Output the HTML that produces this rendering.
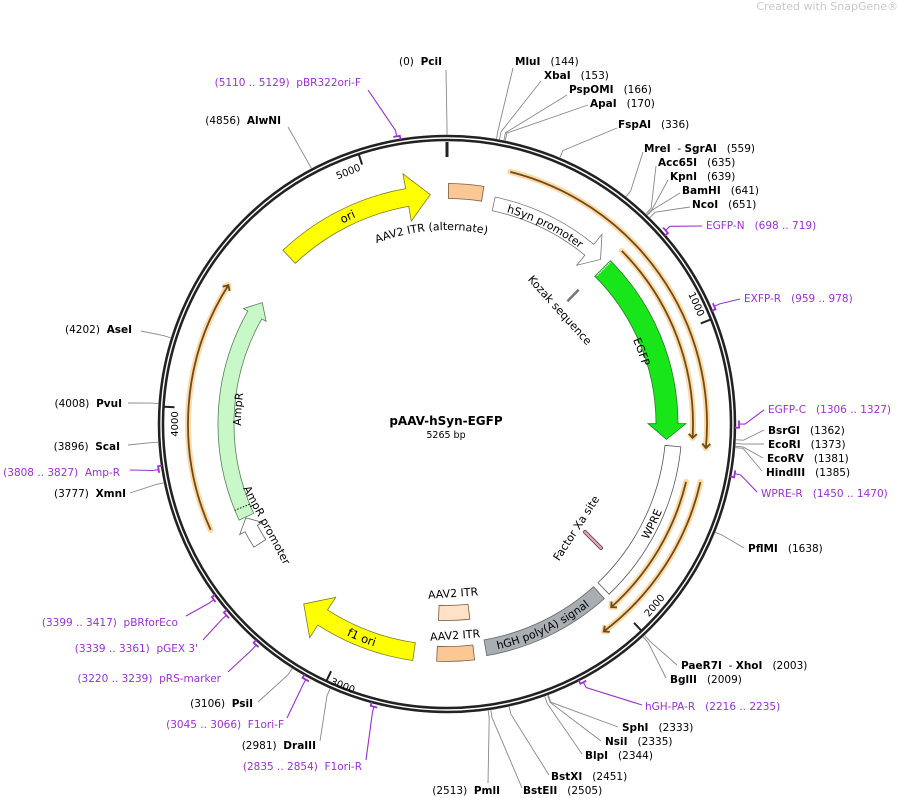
<!DOCTYPE html>
<html><head><meta charset="utf-8">
<style>
html,body{margin:0;padding:0;background:#fff;}
svg{display:block;font-family:"DejaVu Sans","Liberation Sans",sans-serif;}
svg text{white-space:pre;}
.n{font-weight:bold;fill:#000;}
.p{fill:#000;}
.pr{fill:#9b30d0;}
</style></head>
<body>
<svg id="s" width="898" height="798" viewBox="0 0 898 798" xmlns="http://www.w3.org/2000/svg" xml:space="preserve">
<g id="shapes"></g>
<defs>
<path id="pOri"/><path id="pItrA"/><path id="pHsyn"/><path id="pEgfp"/><path id="pWpre"/><path id="pHgh"/><path id="pF1"/><path id="pAmp"/>
</defs>
<g font-size="11.5" fill="#000">
<text><textPath href="#pOri" startOffset="50%" text-anchor="middle">ori</textPath></text>
<text font-size="11"><textPath href="#pItrA" startOffset="50%" text-anchor="middle">AAV2 ITR (alternate)</textPath></text>
<text font-size="11"><textPath href="#pHsyn" startOffset="50%" text-anchor="middle">hSyn promoter</textPath></text>
<text font-size="11"><textPath href="#pEgfp" startOffset="50%" text-anchor="middle">EGFP</textPath></text>
<text font-size="11"><textPath href="#pWpre" startOffset="50%" text-anchor="middle">WPRE</textPath></text>
<text font-size="11"><textPath href="#pHgh" startOffset="50%" text-anchor="middle">hGH poly(A) signal</textPath></text>
<text font-size="11.5"><textPath href="#pF1" startOffset="50%" text-anchor="middle">f1 ori</textPath></text>
<text font-size="11"><textPath href="#pAmp" startOffset="50%" text-anchor="middle">AmpR</textPath></text>
<text font-size="11" x="560" y="314" text-anchor="middle" transform="rotate(48 560 310)">Kozak sequence</text>
<text font-size="11" x="576" y="532" text-anchor="middle" transform="rotate(-57 576 528)">Factor Xa site</text>
<text font-size="11" x="267" y="529" text-anchor="middle" transform="rotate(62 267 525)">AmpR promoter</text>
<text font-size="11" x="453" y="597" text-anchor="middle" transform="rotate(-4 453 593)">AAV2 ITR</text>
<text font-size="11" x="455" y="639" text-anchor="middle" transform="rotate(-4 455 635)">AAV2 ITR</text>
</g>
<text x="446" y="425" text-anchor="middle" font-size="12" font-weight="bold">pAAV-hSyn-EGFP</text>
<text x="446" y="438" text-anchor="middle" font-size="9.5">5265 bp</text>
<g font-size="10" fill="#000">
<text x="348" y="175" text-anchor="middle" transform="rotate(-22 348 171)">5000</text>
<text x="174" y="428" text-anchor="middle" transform="rotate(-90 174 424)">4000</text>
<text x="343" y="689" text-anchor="middle" transform="rotate(22 343 685)">3000</text>
<text x="654" y="609" text-anchor="middle" transform="rotate(-50 654 605)">2000</text>
<text x="697" y="308" text-anchor="middle" transform="rotate(66 697 304)">1000</text>
</g>
<text x="898" y="10" text-anchor="end" font-size="11" fill="#c8c8c8">Created with SnapGene®</text>
<g font-size="10.5">
<text x="442" y="65" text-anchor="end"><tspan class="p">(0)  </tspan><tspan class="n">PciI</tspan></text>
<text x="515" y="65"><tspan class="n">MluI</tspan><tspan>   (144)</tspan></text>
<text x="544" y="79"><tspan class="n">XbaI</tspan><tspan>   (153)</tspan></text>
<text x="569" y="93"><tspan class="n">PspOMI</tspan><tspan>   (166)</tspan></text>
<text x="590" y="107"><tspan class="n">ApaI</tspan><tspan>   (170)</tspan></text>
<text x="618" y="128"><tspan class="n">FspAI</tspan><tspan>   (336)</tspan></text>
<text x="644" y="152"><tspan class="n">MreI</tspan><tspan>  - </tspan><tspan class="n">SgrAI</tspan><tspan>   (559)</tspan></text>
<text x="658" y="166"><tspan class="n">Acc65I</tspan><tspan>   (635)</tspan></text>
<text x="670" y="180"><tspan class="n">KpnI</tspan><tspan>   (639)</tspan></text>
<text x="682" y="194"><tspan class="n">BamHI</tspan><tspan>   (641)</tspan></text>
<text x="692" y="208"><tspan class="n">NcoI</tspan><tspan>   (651)</tspan></text>
<text x="768" y="434"><tspan class="n">BsrGI</tspan><tspan>   (1362)</tspan></text>
<text x="768" y="448"><tspan class="n">EcoRI</tspan><tspan>   (1373)</tspan></text>
<text x="767" y="462"><tspan class="n">EcoRV</tspan><tspan>   (1381)</tspan></text>
<text x="766" y="476"><tspan class="n">HindIII</tspan><tspan>   (1385)</tspan></text>
<text x="748" y="552"><tspan class="n">PflMI</tspan><tspan>   (1638)</tspan></text>
<text x="681" y="669"><tspan class="n">PaeR7I</tspan><tspan>  - </tspan><tspan class="n">XhoI</tspan><tspan>   (2003)</tspan></text>
<text x="670" y="683"><tspan class="n">BglII</tspan><tspan>   (2009)</tspan></text>
<text x="622" y="731"><tspan class="n">SphI</tspan><tspan>   (2333)</tspan></text>
<text x="605" y="745"><tspan class="n">NsiI</tspan><tspan>   (2335)</tspan></text>
<text x="585" y="759"><tspan class="n">BlpI</tspan><tspan>   (2344)</tspan></text>
<text x="551" y="780"><tspan class="n">BstXI</tspan><tspan>   (2451)</tspan></text>
<text x="523" y="794"><tspan class="n">BstEII</tspan><tspan>   (2505)</tspan></text>
<text x="500" y="794" text-anchor="end"><tspan>(2513)  </tspan><tspan class="n">PmlI</tspan></text>
<text x="316" y="749" text-anchor="end"><tspan>(2981)  </tspan><tspan class="n">DraIII</tspan></text>
<text x="253" y="707" text-anchor="end"><tspan>(3106)  </tspan><tspan class="n">PsiI</tspan></text>
<text x="126" y="497" text-anchor="end"><tspan>(3777)  </tspan><tspan class="n">XmnI</tspan></text>
<text x="120" y="450" text-anchor="end"><tspan>(3896)  </tspan><tspan class="n">ScaI</tspan></text>
<text x="122" y="407" text-anchor="end"><tspan>(4008)  </tspan><tspan class="n">PvuI</tspan></text>
<text x="132" y="333" text-anchor="end"><tspan>(4202)  </tspan><tspan class="n">AseI</tspan></text>
<text x="281" y="124" text-anchor="end"><tspan>(4856)  </tspan><tspan class="n">AlwNI</tspan></text>
</g>
<g font-size="10.5" class="pr">
<text x="361" y="86" text-anchor="end">(5110 .. 5129)  pBR322ori-F</text>
<text x="706" y="229">EGFP-N   (698 .. 719)</text>
<text x="744" y="302">EXFP-R   (959 .. 978)</text>
<text x="768" y="413">EGFP-C   (1306 .. 1327)</text>
<text x="761" y="497">WPRE-R   (1450 .. 1470)</text>
<text x="645" y="710">hGH-PA-R   (2216 .. 2235)</text>
<text x="362" y="770" text-anchor="end">(2835 .. 2854)  F1ori-R</text>
<text x="284" y="728" text-anchor="end">(3045 .. 3066)  F1ori-F</text>
<text x="221" y="682" text-anchor="end">(3220 .. 3239)  pRS-marker</text>
<text x="198" y="652" text-anchor="end">(3339 .. 3361)  pGEX 3'</text>
<text x="178" y="626" text-anchor="end">(3399 .. 3417)  pBRforEco</text>
<text x="120" y="476" text-anchor="end">(3808 .. 3827)  Amp-R</text>
</g>
</svg>
<script>
(function(){
var NS="http://www.w3.org/2000/svg",cx=447,cy=424,N=5265;
function P(b,r){var a=b/N*2*Math.PI;return [cx+r*Math.sin(a),cy-r*Math.cos(a)];}
function f(p){return p[0].toFixed(2)+" "+p[1].toFixed(2);}
function arc(b1,b2,r,sw){var lg=Math.abs(b2-b1)/N>0.5?1:0;return "A"+r+" "+r+" 0 "+lg+" "+sw+" "+f(P(b2,r));}
var G=document.getElementById("shapes");
function el(t,a,par){var e=document.createElementNS(NS,t);for(var k in a)e.setAttribute(k,a[k]);(par||G).appendChild(e);return e;}
function track(b1,b2,r){return "M"+f(P(b1,r))+arc(b1,b2,r,1);}
function primer(b1,b2,r,cw){
 var d=track(b1,b2,r);
 el("path",{d:d,fill:"none",stroke:"#fcd9a6",'stroke-width':6,'stroke-linecap':'round'});
 var tip=cw?b2:b1, bk=cw?b2-14:b1+14;
 var t=P(tip,r),a=P(bk,r+4),c=P(bk,r-4);
 el("path",{d:"M"+f(a)+"L"+f(t)+"L"+f(c),fill:"none",stroke:"#fcd9a6",'stroke-width':5,'stroke-linejoin':'round'});
 el("path",{d:d,fill:"none",stroke:"#6e4b16",'stroke-width':1.8});
 el("path",{d:"M"+f(a)+"L"+f(t)+"L"+f(c),fill:"none",stroke:"#6e4b16",'stroke-width':1.8});
}
primer(206,1394,260,true);
primer(662,1364,246,true);
primer(1505,2090,260,true);
primer(1515,2020,246,true);
primer(3596,4423,259,true);
function farrow(s,e,r,w,hw,h,fill,stroke,cw){
 var ro=r+w/2,ri=r-w/2,d;
 if(cw){var m=e-h;
  d="M"+f(P(s,ro))+arc(s,m,ro,1)+"L"+f(P(m,r+hw))+"L"+f(P(e,r))+"L"+f(P(m,r-hw))+"L"+f(P(m,ri))+arc(m,s,ri,0)+"Z";
 } else {var m=s+h;
  d="M"+f(P(e,ro))+arc(e,m,ro,0)+"L"+f(P(m,r+hw))+"L"+f(P(s,r))+"L"+f(P(m,r-hw))+"L"+f(P(m,ri))+arc(m,e,ri,1)+"Z";
 }
 el("path",{d:d,fill:fill,stroke:stroke,'stroke-width':0.8});
}
function box(s,e,r,w,fill,stroke){
 var ro=r+w/2,ri=r-w/2;
 el("path",{d:"M"+f(P(s,ro))+arc(s,e,ro,1)+"L"+f(P(e,ri))+arc(e,s,ri,0)+"Z",fill:fill,stroke:stroke,'stroke-width':0.8});
}
farrow(4631,5204,230,18,24,85,"#ffff00","#7a7a20",true);
box(5,129,233,15,"#fbc895","#7a5a40");
farrow(175,629,225,14,20,55,"#ffffff","#777",true);
farrow(658,1375,220,22,19,60,"#19e619","#2a7a2a",true);
box(1398,1995,227,16,"#ffffff","#555");
box(2018,2490,227,16,"#a8aeb4","#666");
box(2535,2669,230,15,"#fbc895","#7a5a40");
box(2535,2669,189,15,"#fde2c8","#7a5a40");
farrow(2753,3196,230,18,24,85,"#ffff00","#7a7a20",true);
farrow(3586,4436,221,16,13,55,"#c8f7c8","#558055",true);
farrow(3473,3583,222,14,13,45,"#ffffff","#666",true);
el("path",{d:"M"+f(P(3625,213))+"L"+f(P(3625,229)),stroke:"#000",'stroke-width':1,'stroke-dasharray':'1.5 1.5',fill:'none'});
el("path",{d:"M"+f(P(662,211))+"L"+f(P(662,230)),stroke:"#fff",'stroke-width':1.5,'stroke-dasharray':'1 1',fill:'none'});
el("path",{d:"M"+f(P(650,172))+"L"+f(P(650,188)),stroke:"#777",'stroke-width':2.5});
el("path",{d:"M585 532 L601 548",stroke:"#6a4050",'stroke-width':4,'stroke-linecap':'round'});
el("path",{d:"M585 532 L601 548",stroke:"#e0a8c0",'stroke-width':2.2,'stroke-linecap':'round'});
el("circle",{cx:cx,cy:cy,r:286,fill:"none",stroke:"#222",'stroke-width':6.5});
el("circle",{cx:cx,cy:cy,r:286,fill:"none",stroke:"#fff",'stroke-width':1.4});
el("path",{d:"M"+f(P(0,282))+"L"+f(P(0,267)),stroke:"#222",'stroke-width':3});
[1000,2000,3000,4000,5000].forEach(function(b){el("path",{d:"M"+f(P(b,283))+"L"+f(P(b,273)),stroke:"#222",'stroke-width':2});});
var sites=[[0,446,70],[144,513,68],[153,541,81],[166,567,95],[170,588,105],[336,617,128],[559,643,152],[635,656,166],[639,668,180],[641,680,193],[651,690,207],
[1362,764,430],[1373,764,444],[1381,763,458],[1385,762,471],[1638,744,548],[2003,677,665],[2009,666,678],[2333,618,727],[2335,601,741],[2344,582,754],
[2451,549,775],[2505,522,788],[2513,488,783],[2981,320,741],[3106,258,702],[3777,130,493],[3896,128,445],[4008,128,403],[4202,141,331],[4856,288,127]];
sites.forEach(function(s){var a=P(s[0],289.5),b=P(s[0],297);
 el("path",{d:"M"+f(a)+"L"+f(b)+"L"+s[1]+" "+s[2],fill:"none",stroke:"#888",'stroke-width':0.9});});
var prs=[[5110,5129,368,90],[698,719,702,226],[959,978,740,299],[1306,1327,764,410],[1450,1470,757,492],[2216,2235,642,705],
[2835,2854,366,760],[3045,3066,287,718],[3220,3239,228,672],[3339,3361,203,640],[3399,3417,186,616],[3808,3827,130,470]];
prs.forEach(function(p){var m=(p[0]+p[1])/2,r=292;
 el("path",{d:"M"+p[2]+" "+p[3]+"L"+f(P(m,298))+"L"+f(P(m,r)),fill:"none",stroke:"#9b30d0",'stroke-width':1.1});
 el("path",{d:"M"+f(P(p[0],r))+arc(p[0],p[1],r,1)+"L"+f(P(p[1],r-4)),fill:"none",stroke:"#9b30d0",'stroke-width':1.8});
});
function setp(id,d){document.getElementById(id).setAttribute("d",d);}
setp("pOri","M"+f(P(4600,226))+arc(4600,5180,226,1));
setp("pItrA","M"+f(P(4900,194))+"A194 194 0 0 1 "+f(P(228,194)));
setp("pHsyn","M"+f(P(150,220))+arc(150,622,220,1));
setp("pEgfp","M"+f(P(800,204))+arc(800,1236,204,1));
setp("pWpre","M"+f(P(1900,232))+arc(1900,1494,232,0));
setp("pHgh","M"+f(P(2500,231))+arc(2500,2022,231,0));
setp("pF1","M"+f(P(3200,234))+arc(3200,2702,234,0));
setp("pAmp","M"+f(P(3700,206))+arc(3700,4316,206,1));
})();
</script>
</body></html>
